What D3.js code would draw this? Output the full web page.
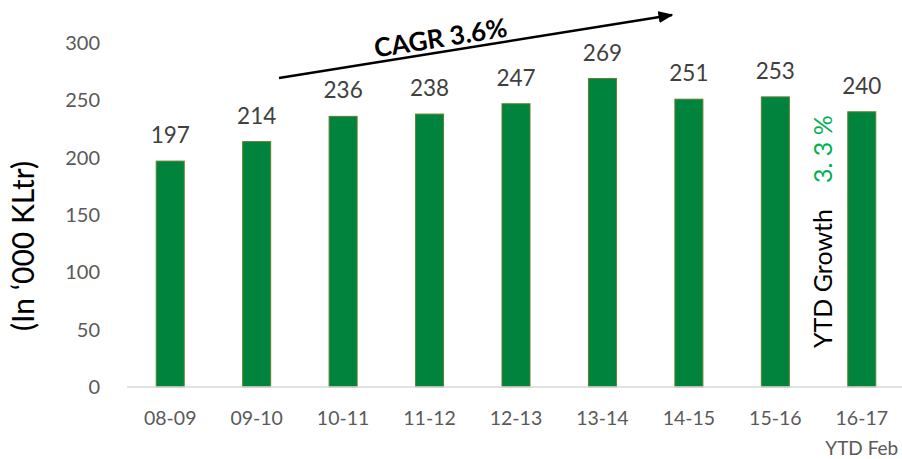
<!DOCTYPE html>
<html>
<head>
<meta charset="utf-8">
<script src="https://cdn.jsdelivr.net/npm/d3@7"></script>
<style>
  body { margin: 0; background: #fff; }
  svg { font-family: Lato, "Open Sans", sans-serif; }
</style>
</head>
<body>
<svg id="svg1" width="902" height="459"></svg>
<script>
var years = ['08-09', '09-10', '10-11', '11-12', '12-13', '13-14', '14-15', '15-16', '16-17'];
var volumes = [197, 214, 236, 238, 247, 269, 251, 253, 240];
var yTicks = [0, 50, 100, 150, 200, 250, 300];

var svg = d3.select('#svg1');

var x = d3.scaleBand()
    .domain(years)
    .range([127, 905])
    .paddingInner(0.676)
    .paddingOuter(0.338);

var y = d3.scaleLinear()
    .domain([0, 300])
    .range([387, 43]);

// y tick labels (no axis line)
svg.selectAll('.ytick')
    .data(yTicks)
    .enter()
    .append('text')
    .attr('class', 'ytick')
    .attr('x', 100)
    .attr('y', function (d) { return y(d) + 7; })
    .attr('text-anchor', 'end')
    .attr('fill', '#595959')
    .attr('font-size', 20)
    .text(function (d) { return d; });

// y title
svg.append('text')
    .attr('transform', 'translate(34,246) rotate(-90)')
    .attr('text-anchor', 'middle')
    .attr('font-size', 30)
    .attr('fill', '#000')
    .text('(In \u2018000 KLtr)');

// bars
svg.selectAll('rect.bar')
    .data(volumes)
    .enter()
    .append('rect')
    .attr('class', 'bar')
    .attr('x', function (d, i) { return x(years[i]); })
    .attr('width', x.bandwidth())
    .attr('y', function (d) { return y(d); })
    .attr('height', function (d) { return y(0) - y(d); })
    .attr('fill', '#00843d')
    .attr('stroke', '#5f7f30')
    .attr('stroke-width', 1);

// baseline
svg.append('line')
    .attr('x1', 127).attr('x2', 905)
    .attr('y1', y(0)).attr('y2', y(0))
    .attr('stroke', '#d9d9d9')
    .attr('stroke-width', 1.5);

// value labels
svg.selectAll('.val')
    .data(volumes)
    .enter()
    .append('text')
    .attr('class', 'val')
    .attr('x', function (d, i) { return x(years[i]) + x.bandwidth() / 2; })
    .attr('y', function (d) { return y(d) - 18; })
    .attr('text-anchor', 'middle')
    .attr('fill', '#404040')
    .attr('font-size', 22.5)
    .text(function (d) { return d; });

// x labels
svg.selectAll('.xlab')
    .data(years)
    .enter()
    .append('text')
    .attr('class', 'xlab')
    .attr('x', function (d) { return x(d) + x.bandwidth() / 2; })
    .attr('y', 425)
    .attr('text-anchor', 'middle')
    .attr('fill', '#595959')
    .attr('font-size', 19.5)
    .text(function (d) { return d; });

svg.append('text')
    .attr('x', x('16-17') + x.bandwidth() / 2)
    .attr('y', 455)
    .attr('text-anchor', 'middle')
    .attr('fill', '#595959')
    .attr('font-size', 19)
    .text('YTD Feb');

// CAGR arrow
svg.append('defs').append('marker')
    .attr('id', 'arrow')
    .attr('viewBox', '0 0 10 10')
    .attr('refX', 9).attr('refY', 5)
    .attr('markerWidth', 6).attr('markerHeight', 6)
    .attr('orient', 'auto')
    .append('path')
    .attr('d', 'M0,1 L10,5 L0,9 Z')
    .attr('fill', '#000');

svg.append('line')
    .attr('x1', 279).attr('y1', 78)
    .attr('x2', 672).attr('y2', 15)
    .attr('stroke', '#000')
    .attr('stroke-width', 2.5)
    .attr('marker-end', 'url(#arrow)');

svg.append('text')
    .attr('transform', 'translate(442,47) rotate(-9.1)')
    .attr('text-anchor', 'middle')
    .attr('font-size', 26)
    .attr('font-weight', 'bold')
    .attr('fill', '#000')
    .text('CAGR 3.6%');

// YTD growth
var ytd = svg.append('text')
    .attr('transform', 'translate(832,348) rotate(-90)')
    .attr('font-size', 25)
    .attr('fill', '#000');
ytd.append('tspan').text('YTD Growth');
ytd.append('tspan').attr('dx', 26).attr('fill', '#00b050').text('3. 3 %');
</script>
</body>
</html>
